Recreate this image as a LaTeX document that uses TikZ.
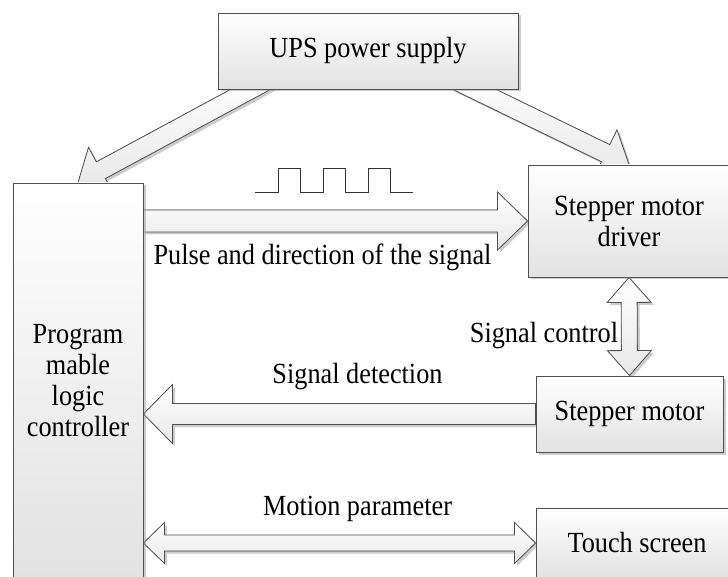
\documentclass[tikz,border=0pt]{standalone}
\usepackage{fontspec}
\setmainfont{Liberation Serif}[FakeStretch=0.9]
\usepackage{tikz}
\usetikzlibrary{calc,shadows,backgrounds}
\definecolor{unitedge}{RGB}{80,80,80}
\definecolor{unitshade}{RGB}{226,226,226}
\tikzset{every picture/.style={line width=.8pt}}

% hollow block arrows: [opts]{from}{to}{half shaft}{half head}{head length}
\newcommand{\onewayarrow}[6][]{%
  \filldraw[fat,#1] ($(#2)!#4!90:(#3)$)
    -- ($(#3)!#6!(#2)!#4!-90:(#2)$)
    -- ($(#3)!#6!(#2)!#5!-90:(#2)$)
    -- (#3)
    -- ($(#3)!#6!(#2)!#5!90:(#2)$)
    -- ($(#3)!#6!(#2)!#4!90:(#2)$)
    -- ($(#2)!#4!-90:(#3)$) -- cycle;}
\newcommand{\twowayarrow}[6][]{%
  \filldraw[fat,#1] (#2)
    -- ($(#2)!#6!(#3)!#5!90:(#3)$)
    -- ($(#2)!#6!(#3)!#4!90:(#3)$)
    -- ($(#3)!#6!(#2)!#4!-90:(#2)$)
    -- ($(#3)!#6!(#2)!#5!-90:(#2)$)
    -- (#3)
    -- ($(#3)!#6!(#2)!#5!90:(#2)$)
    -- ($(#3)!#6!(#2)!#4!90:(#2)$)
    -- ($(#2)!#6!(#3)!#4!-90:(#3)$)
    -- ($(#2)!#6!(#3)!#5!-90:(#3)$) -- cycle;}

\begin{document}
\begin{tikzpicture}[x=1pt,y=-1pt,
  every node/.style={font=\fontsize{29.2}{31}\selectfont},
  unit/.style={draw=unitedge,line width=.9pt,top color=white,
               bottom color=unitshade,align=center,inner sep=0pt,
               drop shadow={shadow xshift=2.5pt,shadow yshift=-2.5pt,
                            fill=black!40,opacity=.5}},
  fat/.style={draw=unitedge,line width=.8pt,top color=white,
              bottom color=unitshade!80,
              drop shadow={shadow xshift=2.5pt,shadow yshift=-2.5pt,
                           fill=black!40,opacity=.5}},
  wave/.style={draw=black!80,line width=.9pt}]

  \useasboundingbox (0,0) rectangle (728,577);
  \clip (0,0) rectangle (728,577);

  % Units.
  \node[unit,minimum width=300pt,minimum height=76pt] (ups) at (368,51)
    {UPS power supply};
  \node[unit,minimum width=130pt,minimum height=396pt] (plc) at (78,381)
    {Program\\mable\\logic\\controller};
  \node[unit,minimum width=202pt,minimum height=112pt] (drv) at (629,221)
    {Stepper motor\\driver};
  \node[unit,minimum width=187pt,minimum height=76pt] (motor) at (629.5,414)
    {Stepper motor};
  \node[unit,minimum width=202pt,minimum height=70pt] (touch) at (637,543)
    {Touch screen};

  % Free ends of the connectors.
  \coordinate (ups-l) at ($(ups.south)+(-99,-10)$);
  \coordinate (ups-r) at ($(ups.south)+(88,-9)$);
  \coordinate (pulse-a) at (plc.east |- drv.west);
  \coordinate (detect-b) at (plc.east |- motor.west);
  \coordinate (motion-a) at (plc.east |- touch.west);

  % Connectors behind the units.
  \begin{pgfonlayer}{background}
    \onewayarrow{ups-l}{plc.north}{9.5pt}{26pt}{26pt}
    \onewayarrow{ups-r}{drv.north}{9.5pt}{26pt}{26pt}
    \onewayarrow{pulse-a}{drv.west}{11pt}{29pt}{30pt}
    \onewayarrow{motor.west}{detect-b}{10.5pt}{29.5pt}{29pt}
    \twowayarrow{drv.south}{motor.north}{8pt}{22pt}{25pt}
    \twowayarrow{motion-a}{touch.west}{8pt}{20.5pt}{21pt}
  \end{pgfonlayer}

  % Pulse train.
  \draw[wave] (255,192) -- (278,192)
    foreach \k in {0,1,2} { -- ++(0,-24) -- ++(22.5,0) -- ++(0,24) -- ++(22.5,0) };

  % Labels.
  \node[anchor=base] (pulse-lbl) at (322.5,265) {Pulse and direction of the signal};
  \node[anchor=base] (control-lbl) at (544,342) {Signal control};
  \node[anchor=base] (detect-lbl) at (357.5,383) {Signal detection};
  \node[anchor=base] (motion-lbl) at (357.5,515) {Motion parameter};
\end{tikzpicture}
\end{document}
